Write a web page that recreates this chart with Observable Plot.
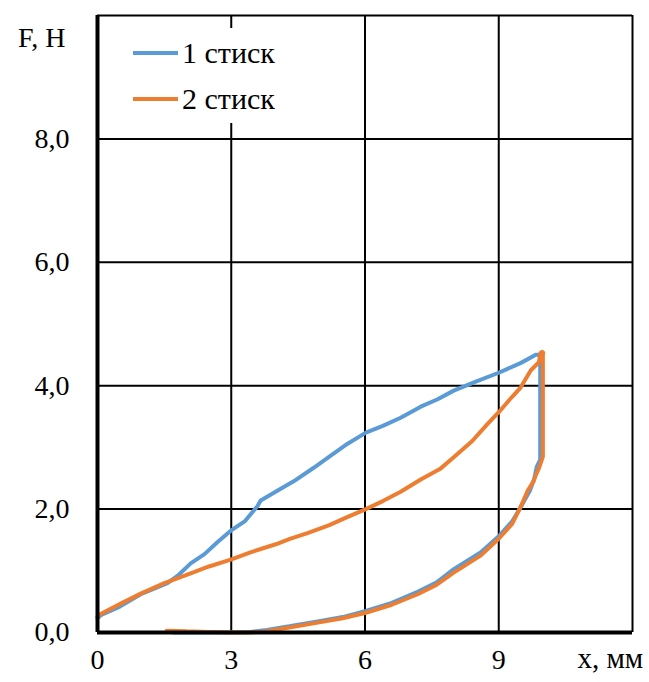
<!DOCTYPE html>
<html>
<head>
<meta charset="utf-8">
<script src="https://cdn.jsdelivr.net/npm/d3@7"></script>
<script src="https://cdn.jsdelivr.net/npm/@observablehq/plot@0.6"></script>
<style>
  body { margin: 0; background: #fff; }
  #wrap { position: relative; width: 649px; height: 682px; font-family: "Liberation Serif", "Times New Roman", serif; }
  #legend { position: absolute; left: 100px; top: 28px; width: 190px; height: 95px; background: #fff; }
  .item { position: absolute; left: 33px; height: 30px; display: flex; align-items: center; font-size: 30px; color: #000; white-space: nowrap; }
  .swatch { width: 45px; height: 4px; margin-right: 4px; }
</style>
</head>
<body>
<div id="wrap"></div>
<script>
// Series names and colours
const seriesNames = ["1 стиск", "2 стиск"];
const seriesColors = ["#5B9BD5", "#ED7D31"];

// Tick values
const xTicks = [0, 3, 6, 9];
const yTicks = [0, 2, 4, 6, 8];
const xGrid = [3, 6, 9, 12];
const yGrid = [2, 4, 6, 8, 10];

// Series 1 (1 стиск): loading, drop, unloading
const x1 = [0.0, 0.07, 0.5, 0.97, 1.3, 1.57, 1.8, 2.09, 2.4, 2.7, 2.99, 3.3, 3.59, 3.66, 4.11, 4.4, 4.85, 5.2, 5.61, 6.02, 6.4, 6.8, 7.25, 7.63, 7.99, 8.5, 9.0, 9.5, 9.83, 9.9,
            9.93, 9.93, 9.85, 9.8, 9.7, 9.5, 9.3, 9.0, 8.6, 8.0, 7.6, 7.18, 6.6, 6.02, 5.5, 4.94, 4.3, 3.8, 3.43, 3.0, 2.5, 2.0, 1.7];
const y1 = [0.23, 0.28, 0.42, 0.62, 0.72, 0.8, 0.92, 1.12, 1.27, 1.47, 1.65, 1.8, 2.05, 2.14, 2.33, 2.45, 2.67, 2.85, 3.06, 3.24, 3.35, 3.48, 3.66, 3.78, 3.92, 4.07, 4.21, 4.37, 4.5, 4.5,
            4.45, 2.8, 2.68, 2.5, 2.3, 2.04, 1.8, 1.56, 1.3, 1.03, 0.81, 0.66, 0.48, 0.35, 0.25, 0.18, 0.1, 0.04, 0.01, 0.0, 0.0, 0.0, 0.0];

// Series 2 (2 стиск): loading, drop, unloading
const x2 = [0.0, 0.07, 0.5, 0.97, 1.5, 2.09, 2.5, 2.99, 3.43, 4.0, 4.33, 4.71, 5.2, 5.6, 6.02, 6.4, 6.8, 7.25, 7.7, 7.99, 8.4, 8.75, 9.0, 9.3, 9.49, 9.72, 9.9, 9.94, 10.0,
            9.99, 9.99, 9.9, 9.83, 9.78, 9.65, 9.5, 9.3, 9.0, 8.6, 7.99, 7.6, 7.18, 6.6, 6.02, 5.5, 4.94, 4.3, 3.8, 3.43, 3.0, 2.5, 2.0, 1.55];
const y2 = [0.26, 0.3, 0.46, 0.63, 0.8, 0.96, 1.07, 1.18, 1.3, 1.43, 1.52, 1.61, 1.74, 1.87, 2.0, 2.13, 2.28, 2.48, 2.66, 2.84, 3.1, 3.38, 3.57, 3.82, 3.97, 4.25, 4.38, 4.54, 4.55,
            4.5, 2.85, 2.66, 2.55, 2.45, 2.3, 2.05, 1.76, 1.52, 1.25, 0.97, 0.77, 0.62, 0.45, 0.32, 0.23, 0.16, 0.08, 0.02, 0.0, 0.0, 0.01, 0.02, 0.03];

const data = [
  ...x1.map((x, i) => ({ s: seriesNames[0], x, y: y1[i] })),
  ...x2.map((x, i) => ({ s: seriesNames[1], x, y: y2[i] }))
];

const fmt = d => d.toFixed(1).replace(".", ",");

const chart = Plot.plot({
  width: 649,
  height: 682,
  marginLeft: 97,
  marginRight: 17,
  marginTop: 15,
  marginBottom: 50,
  style: { fontFamily: "Liberation Serif", fontSize: "28px", color: "#000", background: "#fff" },
  x: { domain: [0, 12] },
  y: { domain: [0, 10] },
  color: { domain: seriesNames, range: seriesColors },
  marks: [
    Plot.ruleX(xGrid, { stroke: "#000", strokeWidth: 2 }),
    Plot.ruleY(yGrid, { stroke: "#000", strokeWidth: 2 }),
    Plot.line(data, { x: "x", y: "y", z: "s", stroke: "s", strokeWidth: 4, strokeLinejoin: "miter" }),
    Plot.ruleX([0], { stroke: "#000", strokeWidth: 4 }),
    Plot.ruleY([0], { stroke: "#000", strokeWidth: 4 }),
    Plot.axisX({ ticks: xTicks, tickSize: 0, tickPadding: 17, tickFormat: d => String(d), fontSize: 28, label: null }),
    Plot.axisY({ ticks: yTicks, tickSize: 0, tickPadding: 28, tickFormat: fmt, fontSize: 28, label: null }),
    Plot.text(["F, H"], { frameAnchor: "top-left", textAnchor: "end", dx: -32, dy: 12, fontSize: 28 }),
    Plot.text(["x, мм"], { frameAnchor: "bottom-right", textAnchor: "start", dx: -55, dy: 35, fontSize: 29 })
  ]
});

const wrap = document.getElementById("wrap");
wrap.appendChild(chart);

const legend = document.createElement("div");
legend.id = "legend";
seriesNames.forEach((name, i) => {
  const item = document.createElement("div");
  item.className = "item";
  item.style.top = (10 + i * 46) + "px";
  const sw = document.createElement("span");
  sw.className = "swatch";
  sw.style.background = seriesColors[i];
  const t = document.createElement("span");
  t.textContent = name;
  item.appendChild(sw);
  item.appendChild(t);
  legend.appendChild(item);
});
wrap.appendChild(legend);
</script>
</body>
</html>
